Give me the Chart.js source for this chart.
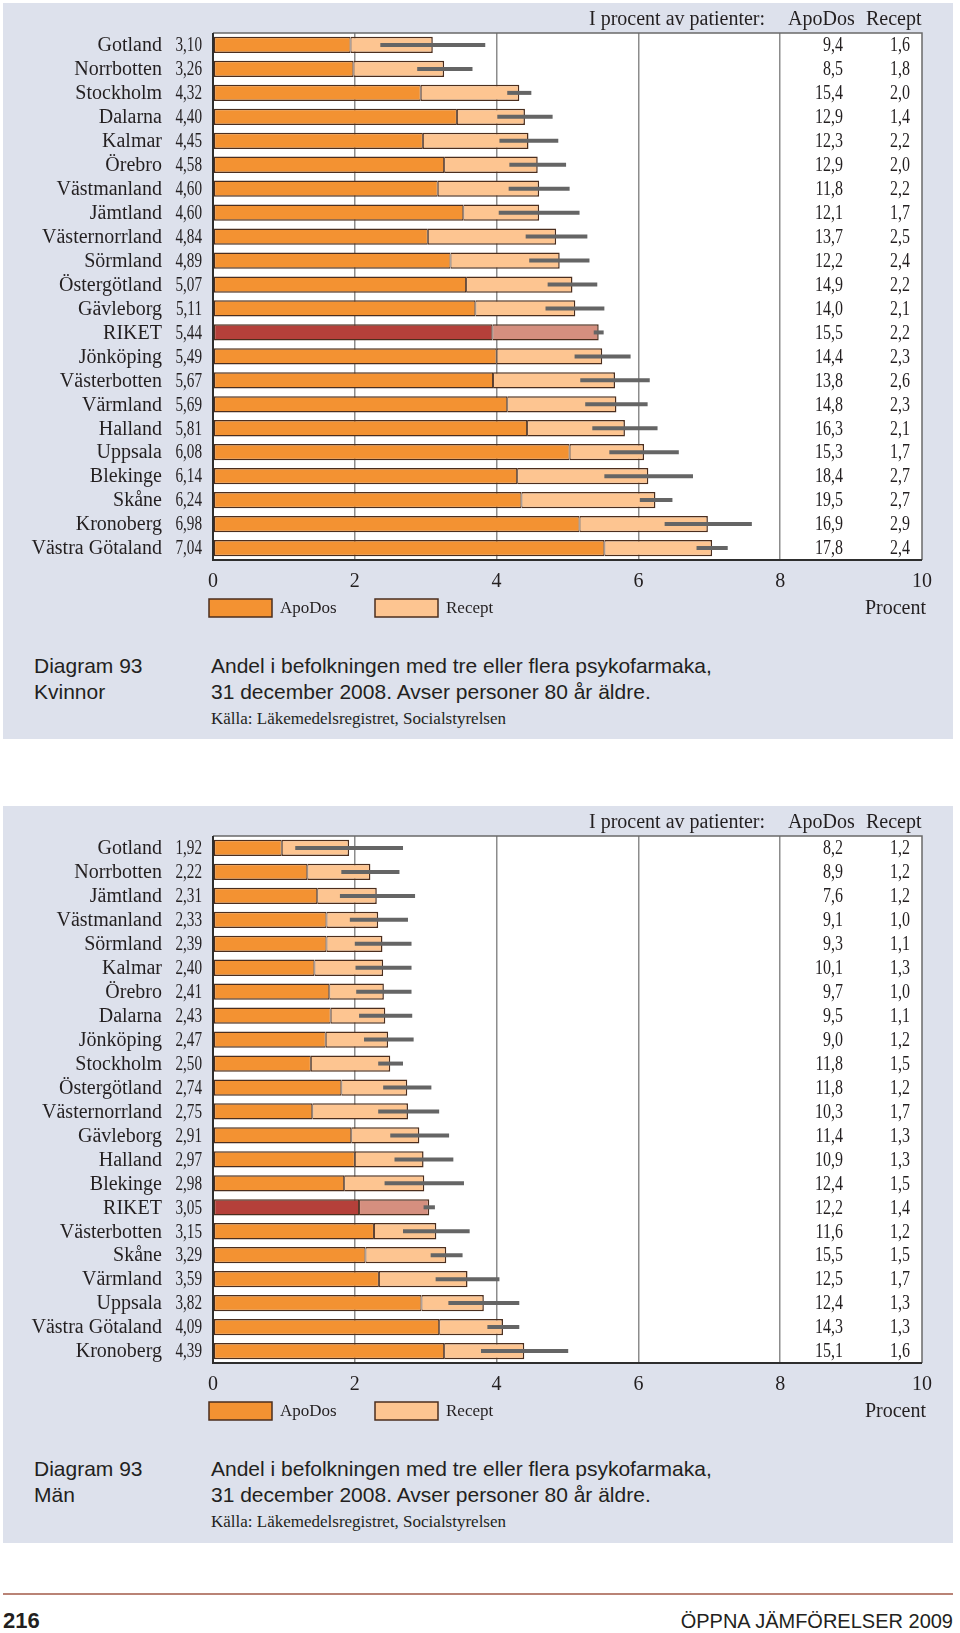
<!DOCTYPE html>
<html lang="sv">
<head>
<meta charset="utf-8">
<title>Diagram 93 – Andel med tre eller flera psykofarmaka</title>
<script src="https://cdn.jsdelivr.net/npm/chart.js@4.4.1/dist/chart.umd.min.js"></script>
<style>
  html, body { margin: 0; padding: 0; background: #fff; }
  body { position: relative; width: 960px; height: 1633px; overflow: hidden;
         font-family: "Liberation Sans", Arial, sans-serif; color: #231f20; }
  .panel { position: absolute; left: 3px; width: 950px; background: #dde1ec; }
  canvas.chart { position: absolute; left: 0; }
  .cap { position: absolute; font-size: 21px; line-height: 25.5px; white-space: nowrap; }
  .src { position: absolute; font-family: "Liberation Serif", serif; font-size: 17px;
         line-height: 20px; white-space: nowrap; }
  .rule { position: absolute; left: 3px; width: 950px; top: 1593px; height: 2px; background: #b98376; }
  .folio { position: absolute; left: 3px; top: 1609px; font-size: 22px; line-height: 24px; font-weight: bold; }
  .runhead { position: absolute; right: 7px; top: 1609px; font-size: 20px; line-height: 24px; }
</style>
</head>
<body>

<div class="panel" style="top:3px;height:736px"></div>
<div class="panel" style="top:806px;height:737px"></div>

<canvas id="kvinnor" class="chart" width="960" height="640" style="top:0"></canvas>
<canvas id="man" class="chart" width="960" height="640" style="top:803px"></canvas>

<div class="cap" style="left:34px;top:653px">Diagram 93<br>Kvinnor</div>
<div class="cap" style="left:211px;top:653px">Andel i befolkningen med tre eller flera psykofarmaka,<br>31 december 2008. Avser personer 80 år äldre.</div>
<div class="src" style="left:211px;top:709px">Källa: Läkemedelsregistret, Socialstyrelsen</div>

<div class="cap" style="left:34px;top:1456px">Diagram 93<br>Män</div>
<div class="cap" style="left:211px;top:1456px">Andel i befolkningen med tre eller flera psykofarmaka,<br>31 december 2008. Avser personer 80 år äldre.</div>
<div class="src" style="left:211px;top:1512px">Källa: Läkemedelsregistret, Socialstyrelsen</div>

<div class="rule"></div>
<div class="folio">216</div>
<div class="runhead">ÖPPNA JÄMFÖRELSER 2009</div>

<script>
// ---- Kvinnor ----
const regionsK = ['Gotland', 'Norrbotten', 'Stockholm', 'Dalarna', 'Kalmar', 'Örebro', 'Västmanland',
  'Jämtland', 'Västernorrland', 'Sörmland', 'Östergötland', 'Gävleborg', 'RIKET', 'Jönköping',
  'Västerbotten', 'Värmland', 'Halland', 'Uppsala', 'Blekinge', 'Skåne', 'Kronoberg', 'Västra Götaland'];
const totalK  = [3.10, 3.26, 4.32, 4.40, 4.45, 4.58, 4.60, 4.60, 4.84, 4.89, 5.07, 5.11, 5.44, 5.49, 5.67, 5.69, 5.81, 6.08, 6.14, 6.24, 6.98, 7.04];
const apodosK = [1.94, 1.98, 2.93, 3.44, 2.96, 3.26, 3.17, 3.53, 3.03, 3.35, 3.57, 3.70, 3.94, 4.00, 3.95, 4.15, 4.43, 5.03, 4.29, 4.35, 5.17, 5.52];
const receptK = [1.16, 1.28, 1.39, 0.96, 1.49, 1.32, 1.43, 1.07, 1.81, 1.54, 1.50, 1.41, 1.50, 1.49, 1.72, 1.54, 1.38, 1.05, 1.85, 1.89, 1.81, 1.52];
const ciLowK  = [2.36, 2.88, 4.15, 4.01, 4.04, 4.18, 4.17, 4.03, 4.41, 4.46, 4.72, 4.69, 5.37, 5.10, 5.18, 5.25, 5.35, 5.59, 5.52, 6.02, 6.37, 6.82];
const ciHighK = [3.84, 3.66, 4.49, 4.79, 4.87, 4.98, 5.03, 5.17, 5.28, 5.31, 5.42, 5.52, 5.51, 5.89, 6.16, 6.13, 6.27, 6.57, 6.77, 6.48, 7.60, 7.26];
const apoShareK    = ['9,4', '8,5', '15,4', '12,9', '12,3', '12,9', '11,8', '12,1', '13,7', '12,2', '14,9', '14,0', '15,5', '14,4', '13,8', '14,8', '16,3', '15,3', '18,4', '19,5', '16,9', '17,8'];
const receptShareK = ['1,6', '1,8', '2,0', '1,4', '2,2', '2,0', '2,2', '1,7', '2,5', '2,4', '2,2', '2,1', '2,2', '2,3', '2,6', '2,3', '2,1', '1,7', '2,7', '2,7', '2,9', '2,4'];

// ---- Män ----
const regionsM = ['Gotland', 'Norrbotten', 'Jämtland', 'Västmanland', 'Sörmland', 'Kalmar', 'Örebro',
  'Dalarna', 'Jönköping', 'Stockholm', 'Östergötland', 'Västernorrland', 'Gävleborg', 'Halland',
  'Blekinge', 'RIKET', 'Västerbotten', 'Skåne', 'Värmland', 'Uppsala', 'Västra Götaland', 'Kronoberg'];
const totalM  = [1.92, 2.22, 2.31, 2.33, 2.39, 2.40, 2.41, 2.43, 2.47, 2.50, 2.74, 2.75, 2.91, 2.97, 2.98, 3.05, 3.15, 3.29, 3.59, 3.82, 4.09, 4.39];
const apodosM = [0.97, 1.33, 1.47, 1.60, 1.60, 1.43, 1.64, 1.66, 1.59, 1.38, 1.81, 1.40, 1.95, 2.00, 1.85, 2.06, 2.27, 2.15, 2.34, 2.94, 3.19, 3.26];
const receptM = [0.95, 0.89, 0.84, 0.73, 0.79, 0.97, 0.77, 0.77, 0.88, 1.12, 0.93, 1.35, 0.96, 0.97, 1.13, 0.99, 0.88, 1.14, 1.25, 0.88, 0.90, 1.13];
const ciLowM  = [1.16, 1.81, 1.79, 1.93, 2.00, 2.01, 2.02, 2.06, 2.13, 2.33, 2.40, 2.33, 2.50, 2.56, 2.42, 2.97, 2.68, 3.07, 3.14, 3.32, 3.87, 3.78];
const ciHighM = [2.68, 2.63, 2.85, 2.75, 2.80, 2.80, 2.80, 2.81, 2.83, 2.68, 3.08, 3.19, 3.33, 3.39, 3.54, 3.13, 3.62, 3.52, 4.04, 4.32, 4.32, 5.01];
const apoShareM    = ['8,2', '8,9', '7,6', '9,1', '9,3', '10,1', '9,7', '9,5', '9,0', '11,8', '11,8', '10,3', '11,4', '10,9', '12,4', '12,2', '11,6', '15,5', '12,5', '12,4', '14,3', '15,1'];
const receptShareM = ['1,2', '1,2', '1,2', '1,0', '1,1', '1,3', '1,0', '1,1', '1,2', '1,5', '1,2', '1,7', '1,3', '1,3', '1,5', '1,4', '1,2', '1,5', '1,7', '1,3', '1,3', '1,6'];

const xTicks = [0, 2, 4, 6, 8, 10];

const SERIF = '"Liberation Serif", "DejaVu Serif", serif';
const INK = '#231f20';
const APO = '#f39232', APO_RIKET = '#b5403a';
const REC = '#fdc591', REC_RIKET = '#d58f7f';
const EDGE = '#4b2e1e';

// draw text squeezed a bit, the original typeface has narrow figures
function narrow(ctx, txt, x, y, k) {
  const w = ctx.measureText(txt).width;
  ctx.fillText(txt, x, y, w * k);
}

function buildChart(id, regions, totals, apodos, recept, ciLow, ciHigh, apoShare, receptShare) {

  const decor = {
    id: 'decor',
    beforeDraw(chart) {
      const { ctx, chartArea: a } = chart;
      ctx.save();
      ctx.fillStyle = '#fff';
      ctx.fillRect(a.left, a.top, a.right - a.left, a.bottom - a.top);
      ctx.restore();
    },
    afterDatasetsDraw(chart) {
      const { ctx } = chart;
      const xs = chart.scales.x, ys = chart.scales.y;
      ctx.save();
      ctx.strokeStyle = '#656565';
      ctx.lineWidth = 4;
      ciLow.forEach((lo, i) => {
        const y = ys.getPixelForValue(i);
        ctx.beginPath();
        ctx.moveTo(xs.getPixelForValue(lo), y);
        ctx.lineTo(xs.getPixelForValue(ciHigh[i]), y);
        ctx.stroke();
      });
      ctx.restore();
    },
    afterDraw(chart) {
      const { ctx, chartArea: a } = chart;
      const ys = chart.scales.y;
      ctx.save();

      // frame
      ctx.lineWidth = 1.5;
      ctx.strokeStyle = '#6a6a6a';
      ctx.beginPath();
      ctx.moveTo(a.left, a.top); ctx.lineTo(a.right, a.top); ctx.lineTo(a.right, a.bottom);
      ctx.stroke();
      ctx.lineWidth = 2;
      ctx.strokeStyle = '#2e2e2e';
      ctx.beginPath();
      ctx.moveTo(a.left, a.top); ctx.lineTo(a.left, a.bottom); ctx.lineTo(a.right, a.bottom);
      ctx.stroke();

      ctx.fillStyle = INK;
      ctx.font = '20px ' + SERIF;
      ctx.textBaseline = 'middle';

      // row labels and totals
      regions.forEach((name, i) => {
        const y = ys.getPixelForValue(i) + 1;
        ctx.textAlign = 'right';
        ctx.fillText(name, 162, y);
        narrow(ctx, totals[i].toFixed(2).replace('.', ','), 202, y, 0.76);
        narrow(ctx, apoShare[i], 843, y, 0.8);
        narrow(ctx, receptShare[i], 910, y, 0.8);
      });

      // header of the table
      ctx.textAlign = 'left';
      ctx.fillText('I procent av patienter:', 589, 20);
      ctx.fillText('ApoDos', 788, 20);
      ctx.fillText('Recept', 866, 20);

      // unit
      ctx.textAlign = 'right';
      ctx.fillText('Procent', 926, 609);

      // legend
      ctx.font = '17px ' + SERIF;
      ctx.textAlign = 'left';
      const legendX = [a.left - 4, a.left + 162];
      chart.data.datasets.forEach((ds, k) => {
        const x = legendX[k];
        ctx.fillStyle = ds.backgroundColor[0];
        ctx.fillRect(x, 599, 63, 18);
        ctx.lineWidth = 1.5;
        ctx.strokeStyle = EDGE;
        ctx.strokeRect(x, 599, 63, 18);
        ctx.fillStyle = INK;
        ctx.fillText(ds.label, x + 71, 609);
      });
      ctx.restore();
    }
  };

  return new Chart(document.getElementById(id), {
    type: 'bar',
    data: {
      labels: regions,
      datasets: [
        {
          label: 'ApoDos',
          data: apodos,
          backgroundColor: regions.map(r => r === 'RIKET' ? APO_RIKET : APO),
          borderColor: EDGE,
          borderWidth: { top: 1.5, bottom: 1.5, left: 1.5, right: 1 },
          borderSkipped: false,
          barPercentage: 0.68,
          categoryPercentage: 1
        },
        {
          label: 'Recept',
          data: recept,
          backgroundColor: regions.map(r => r === 'RIKET' ? REC_RIKET : REC),
          borderColor: EDGE,
          borderWidth: { top: 1.5, bottom: 1.5, left: 1, right: 1.5 },
          borderSkipped: false,
          barPercentage: 0.68,
          categoryPercentage: 1
        }
      ]
    },
    options: {
      indexAxis: 'y',
      responsive: false,
      animation: false,
      devicePixelRatio: 1,
      layout: { padding: { left: 213, right: 38, top: 33, bottom: 40 } },
      scales: {
        x: {
          stacked: true,
          min: 0,
          max: 10,
          afterBuildTicks: s => { s.ticks = xTicks.map(v => ({ value: v })); },
          afterFit: s => { s.height = 40; },
          ticks: {
            padding: 10,
            color: INK,
            font: { family: SERIF, size: 20 },
            callback: v => String(v)
          },
          grid: {
            drawTicks: false,
            lineWidth: 1.5,
            color: c => (c.tick && (c.tick.value === 0 || c.tick.value === 10)) ? 'rgba(0,0,0,0)' : '#8c8c8c'
          },
          border: { display: false }
        },
        y: { stacked: true, display: false }
      },
      plugins: {
        legend: { display: false },
        tooltip: { enabled: false }
      }
    },
    plugins: [decor]
  });
}

buildChart('kvinnor', regionsK, totalK, apodosK, receptK, ciLowK, ciHighK, apoShareK, receptShareK);
buildChart('man', regionsM, totalM, apodosM, receptM, ciLowM, ciHighM, apoShareM, receptShareM);
</script>
</body>
</html>
